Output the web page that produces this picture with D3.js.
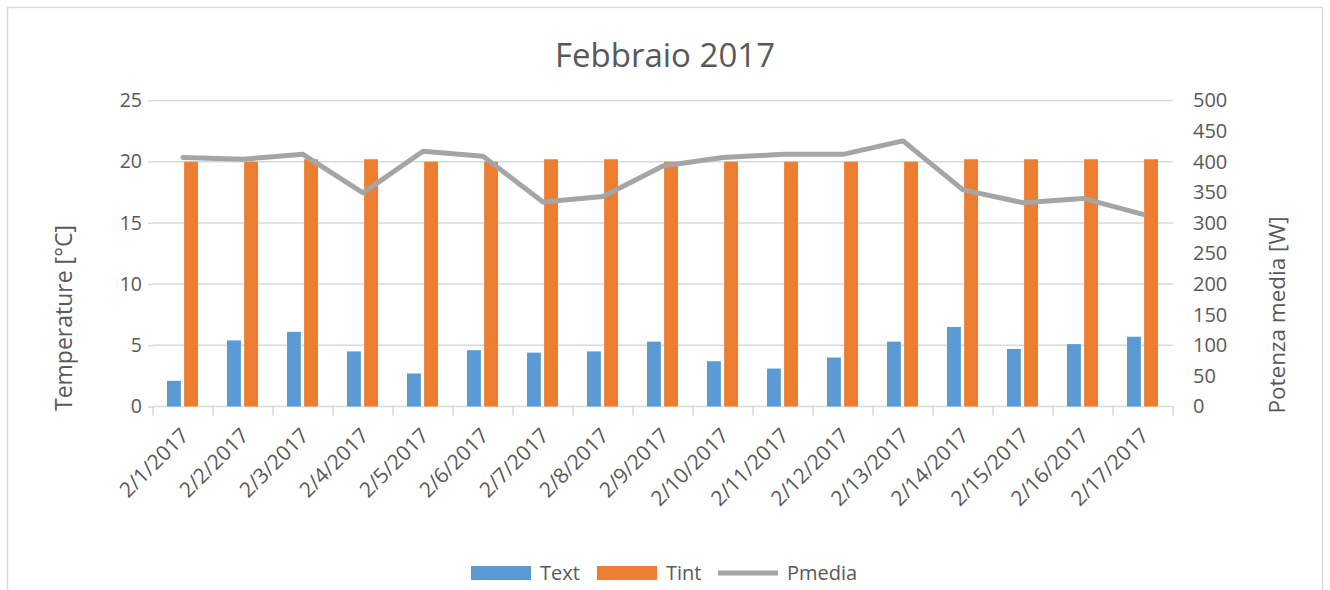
<!DOCTYPE html>
<html>
<head>
<meta charset="utf-8">
<script src="https://d3js.org/d3.v7.min.js"></script>
<style>
  body { margin: 0; background: #fff; }
  text { font-family: "Open Sans", sans-serif; fill: #595959; }
</style>
</head>
<body>
<div class="vis"></div>
<script>
  // data
  var days = ["2/1/2017", "2/2/2017", "2/3/2017", "2/4/2017", "2/5/2017", "2/6/2017",
    "2/7/2017", "2/8/2017", "2/9/2017", "2/10/2017", "2/11/2017", "2/12/2017",
    "2/13/2017", "2/14/2017", "2/15/2017", "2/16/2017", "2/17/2017"];
  var text_ext = [2.1, 5.4, 6.1, 4.5, 2.7, 4.6, 4.4, 4.5, 5.3, 3.7, 3.1, 4.0, 5.3, 6.5, 4.7, 5.1, 5.7];
  var tint = [20.0, 20.0, 20.2, 20.2, 20.0, 20.0, 20.2, 20.2, 20.0, 20.0, 20.0, 20.0, 20.0, 20.2, 20.2, 20.2, 20.2];
  var pmedia = [407, 404, 412, 349, 417, 409, 334, 343, 393, 407, 412, 412, 434, 354, 333, 340, 314];
  var leftTicks = [0, 5, 10, 15, 20, 25];
  var rightTicks = [0, 50, 100, 150, 200, 250, 300, 350, 400, 450, 500];
  var seriesNames = ["Text", "Tint", "Pmedia"];
  var colors = ["#5B9BD5", "#ED7D31", "#A5A5A5"];

  var W = 1330, H = 590;
  var plotL = 153, plotR = 1173, plotT = 100.5, plotB = 406.5;

  var svg = d3.select('.vis').append('svg')
    .attr('width', W)
    .attr('height', H);

  // chart frame
  svg.append('rect')
    .attr('x', 7.5).attr('y', 7.5)
    .attr('width', 1315).attr('height', 600)
    .attr('fill', '#fff')
    .attr('stroke', '#D9D9D9')
    .attr('stroke-width', 1.5);

  var x = d3.scaleBand().domain(days).range([plotL, plotR]);
  var xs = d3.scaleBand().domain(["Text", "Tint"]).range([14, 45]).paddingInner(0.19);
  var yL = d3.scaleLinear().domain([0, 25]).range([plotB, plotT]);
  var yR = d3.scaleLinear().domain([0, 500]).range([plotB, plotT]);

  // gridlines
  svg.append('g')
    .selectAll('line')
    .data(leftTicks.slice(1))
    .join('line')
    .attr('x1', plotL).attr('x2', plotR)
    .attr('y1', d => yL(d)).attr('y2', d => yL(d))
    .attr('stroke', '#D9D9D9')
    .attr('stroke-width', 1.5);

  // left axis
  var gL = svg.append('g')
    .attr('transform', 'translate(' + plotL + ',0)')
    .call(d3.axisLeft(yL).tickValues(leftTicks).tickSize(5).tickPadding(6));
  gL.select('.domain').remove();
  gL.selectAll('.tick line').attr('stroke', '#D9D9D9').attr('stroke-width', 1.5);
  gL.selectAll('.tick text').style('font-size', '19.5px').attr('fill', '#595959')
    .style('font-family', '"Open Sans", sans-serif');

  // right axis (no tick marks)
  var gR = svg.append('g')
    .attr('transform', 'translate(' + plotR + ',0)')
    .call(d3.axisRight(yR).tickValues(rightTicks).tickSize(0).tickPadding(20));
  gR.select('.domain').remove();
  gR.selectAll('.tick line').remove();
  gR.selectAll('.tick text').style('font-size', '20px').attr('fill', '#595959')
    .style('font-family', '"Open Sans", sans-serif');

  // x axis line + ticks between categories
  svg.append('line')
    .attr('x1', plotL).attr('x2', plotR)
    .attr('y1', plotB).attr('y2', plotB)
    .attr('stroke', '#D9D9D9').attr('stroke-width', 1.5);
  svg.append('g')
    .selectAll('line')
    .data(days.concat(['end']))
    .join('line')
    .attr('x1', (d, i) => i < days.length ? x(d) : plotR)
    .attr('x2', (d, i) => i < days.length ? x(d) : plotR)
    .attr('y1', plotB).attr('y2', plotB + 9)
    .attr('stroke', '#D9D9D9').attr('stroke-width', 1.5);

  // x labels, rotated
  svg.append('g')
    .selectAll('text')
    .data(days)
    .join('text')
    .attr('transform', d => 'translate(' + (x(d) + x.bandwidth() / 2 + 7) + ',437) rotate(-45)')
    .attr('text-anchor', 'end')
    .style('font-size', '21px')
    .text(d => d);

  // bars
  var groups = svg.append('g')
    .selectAll('g')
    .data(days)
    .join('g')
    .attr('transform', d => 'translate(' + x(d) + ',0)');

  groups.append('rect')
    .attr('x', xs('Text'))
    .attr('width', xs.bandwidth())
    .attr('y', (d, i) => yL(text_ext[i]))
    .attr('height', (d, i) => plotB - yL(text_ext[i]))
    .attr('fill', colors[0]);

  groups.append('rect')
    .attr('x', xs('Tint'))
    .attr('width', xs.bandwidth())
    .attr('y', (d, i) => yL(tint[i]))
    .attr('height', (d, i) => plotB - yL(tint[i]))
    .attr('fill', colors[1]);

  // Pmedia line on right axis
  var line = d3.line()
    .x((d, i) => x(days[i]) + x.bandwidth() / 2)
    .y(d => yR(d));

  svg.append('path')
    .datum(pmedia)
    .attr('d', line)
    .attr('fill', 'none')
    .attr('stroke', colors[2])
    .attr('stroke-width', 5)
    .attr('stroke-linejoin', 'round')
    .attr('stroke-linecap', 'round');

  // title
  svg.append('text')
    .attr('x', 665).attr('y', 67)
    .attr('text-anchor', 'middle')
    .style('font-size', '33px')
    .text('Febbraio 2017');

  // axis titles
  svg.append('text')
    .attr('transform', 'translate(64,318) rotate(-90)')
    .attr('text-anchor', 'middle')
    .attr('dy', '0.35em')
    .style('font-size', '23px')
    .text('Temperature [°C]');

  svg.append('text')
    .attr('transform', 'translate(1277,315) rotate(-90)')
    .attr('text-anchor', 'middle')
    .attr('dy', '0.35em')
    .style('font-size', '22.5px')
    .text('Potenza media [W]');

  // legend
  var legX = [471, 597, 718];
  var leg = svg.append('g')
    .selectAll('g')
    .data(seriesNames)
    .join('g')
    .attr('transform', (d, i) => 'translate(' + legX[i] + ',566)');

  leg.filter((d, i) => i < 2).append('rect')
    .attr('width', 60).attr('height', 14)
    .attr('fill', (d, i) => colors[i]);

  leg.filter((d, i) => i == 2).append('line')
    .attr('x1', 0).attr('x2', 60)
    .attr('y1', 7).attr('y2', 7)
    .attr('stroke', colors[2])
    .attr('stroke-width', 5);

  leg.append('text')
    .attr('x', 69).attr('y', 7)
    .attr('dy', '0.36em')
    .style('font-size', '20px')
    .text(d => d);
</script>
</body>
</html>
